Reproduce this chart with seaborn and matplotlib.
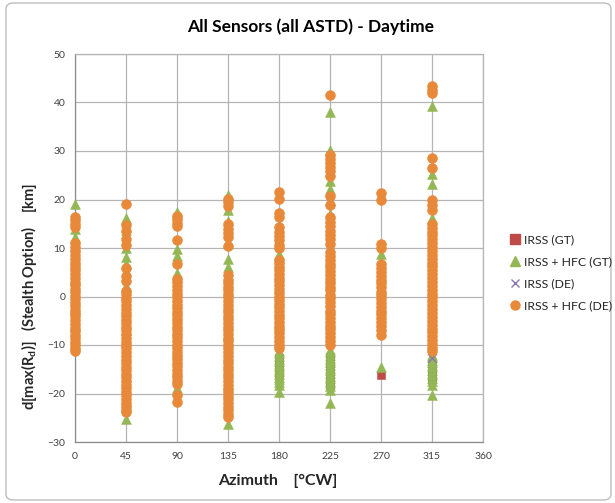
import pandas as pd
import seaborn as sns
import matplotlib.pyplot as plt
from matplotlib.lines import Line2D
from matplotlib.patches import FancyBboxPatch

# Azimuth positions (deg, clockwise) at which the sensors were evaluated
AZIMUTHS = [0, 45, 90, 135, 180, 225, 270, 315]

SERIES = ["IRSS (GT)", "IRSS + HFC (GT)", "IRSS (DE)", "IRSS + HFC (DE)"]

# d[max(Rd)] values in km, one list per azimuth (same order as AZIMUTHS)
irss_gt = [
    [],
    [],
    [],
    [],
    [-12.6, -13.9, -15.2, -16.2],
    [-12.4, -13.7, -15.0, -16.3, -17.4, -18.3],
    [-16.2],
    [-13.8, -15.1, -16.3, -17.0],
]

irss_hfc_gt = [
    [19.0, 13.9, 12.3, 10.4, 7.5, 3.5, -2.5, -6.0, -9.5],
    [16.1, 13.8, 10.0, 8.2, 6.6, 2.2, -7.0, -16.5, -22.0, -25.2],
    [17.5, 9.8, 8.3, 4.9, -4.0, -11.0, -18.9],
    [21.0, 17.8, 15.6, 11.0, 7.7, 6.0, 1.0, -8.0, -18.0, -26.2],
    [8.8, 2.0, -6.0, -11.2, -11.7, -12.3, -12.8, -13.3, -13.9, -14.4, -14.9,
     -15.4, -16.0, -16.5, -17.1, -17.6, -18.3, -19.6],
    [38.0, 30.3, 23.8, 22.1, 20.0, 17.1, 4.0, -11.0, -11.5, -12.0, -12.6,
     -13.1, -13.6, -14.2, -14.7, -15.2, -15.8, -16.3, -16.8, -17.4, -17.9,
     -18.5, -19.3, -21.9],
    [8.8, -14.5],
    [39.2, 25.2, 23.2, 16.2, 7.1, -12.0, -12.5, -13.0, -13.6, -14.1, -14.6,
     -15.2, -15.7, -16.2, -16.8, -17.4, -18.2, -20.4],
]

irss_de = [
    [],
    [],
    [],
    [],
    [],
    [],
    [],
    [-12.6],
]

irss_hfc_de = [
    [16.3, 15.7, 15.0, 14.4, 11.0, 10.2, 9.4, 8.5, 7.8, 7.0, 6.1, 5.4, 4.7,
     3.9, 3.0, 2.4, 1.6, 0.9, 0.2, -0.5, -1.3, -2.0, -2.8, -3.5, -4.1, -4.9,
     -5.7, -6.4, -7.2, -7.9, -8.6, -9.4, -10.1, -10.8, -11.3],
    [19.0, 14.8, 13.5, 11.8, 10.6, 5.8, 4.3, 3.1, 1.2, 0.5, -0.3, -1.0, -1.8,
     -2.5, -3.3, -4.0, -4.8, -5.5, -6.2, -7.0, -7.7, -8.5, -9.3, -10.0,
     -10.7, -11.5, -12.2, -13.0, -13.7, -14.5, -15.2, -16.0, -16.7, -17.4,
     -18.2, -18.9, -19.7, -20.4, -21.2, -21.9, -22.6, -23.4, -23.8],
    [16.6, 15.9, 15.1, 14.5, 11.6, 6.7, 3.6, 2.9, 2.1, 1.3, 0.6, -0.2, -0.9,
     -1.7, -2.4, -3.2, -3.9, -4.7, -5.4, -6.2, -6.9, -7.7, -8.4, -9.2, -9.9,
     -10.7, -11.4, -12.2, -12.9, -13.7, -14.4, -15.2, -15.9, -16.7, -17.4,
     -18.1, -20.4, -21.7],
    [20.2, 19.4, 18.6, 15.0, 14.0, 13.0, 12.2, 10.4, 4.4, 3.5, 2.8, 2.0, 1.3,
     0.5, -0.2, -1.0, -1.7, -2.5, -3.2, -4.0, -4.7, -5.5, -6.2, -7.0, -7.7,
     -8.5, -9.2, -10.0, -10.7, -11.5, -12.2, -13.0, -13.7, -14.5, -15.2,
     -16.0, -16.7, -17.5, -18.2, -19.0, -19.7, -20.5, -21.2, -22.0, -22.7,
     -23.5, -24.2, -24.9],
    [21.5, 20.2, 17.2, 16.3, 14.3, 13.4, 12.5, 11.6, 10.7, 9.9, 7.6, 6.9,
     6.1, 5.4, 4.6, 3.8, 3.1, 2.3, 1.5, 0.8, 0.0, -0.7, -1.5, -2.2, -3.0,
     -3.8, -4.5, -5.3, -6.1, -6.8, -7.6, -8.4, -9.1, -9.9, -10.6],
    [41.6, 29.1, 28.3, 27.5, 26.6, 25.8, 24.9, 20.8, 18.8, 16.3, 15.4, 14.5,
     13.6, 12.7, 11.8, 10.9, 9.2, 8.4, 7.6, 6.8, 6.1, 5.3, 4.5, 3.7, 2.8,
     2.0, 1.3, 0.4, -0.4, -1.2, -2.0, -2.9, -3.6, -4.4, -5.2, -6.1, -6.8,
     -7.6, -8.4, -9.2, -10.0],
    [21.4, 19.9, 10.8, 10.0, 6.7, 5.9, 5.1, 4.3, 3.4, 2.7, 1.9, 1.0, 0.3,
     -0.5, -1.3, -2.1, -2.9, -3.7, -4.5, -5.3, -6.1, -6.9, -7.9],
    [43.4, 42.6, 41.9, 28.5, 26.5, 19.9, 18.9, 17.9, 15.0, 14.2, 13.4, 12.6,
     11.8, 11.0, 10.2, 9.4, 8.6, 7.8, 7.0, 6.2, 5.4, 4.6, 3.8, 3.0, 2.2, 1.4,
     0.6, -0.2, -1.0, -1.8, -2.6, -3.4, -4.2, -5.0, -5.8, -6.6, -7.4, -8.2,
     -9.0, -9.8, -10.6, -11.2],
]

COLORS = ["#BE4B48", "#94B755", "#8A78B2", "#E8893A"]
MARKERS = ["s", "^", "x", "o"]
SIZES = [36, 50, 40, 50]

# long-form table: one row per measurement
rows = []
for name, per_az in zip(SERIES, [irss_gt, irss_hfc_gt, irss_de, irss_hfc_de]):
    for az, vals in zip(AZIMUTHS, per_az):
        for v in vals:
            rows.append({"series": name, "azimuth": az, "delta": v})
df = pd.DataFrame(rows)

sns.set_style("white")
plt.rcParams["font.family"] = ["Lato", "DejaVu Sans"]
plt.rcParams["mathtext.fontset"] = "custom"
plt.rcParams["mathtext.rm"] = "Lato"
plt.rcParams["mathtext.bf"] = "Lato:bold"

fig = plt.figure(figsize=(6.15, 5.03), dpi=100)
ax = fig.add_axes([75 / 615, 61 / 503, 408 / 615, 388 / 503])

for i, (name, col, mk, sz) in enumerate(zip(SERIES, COLORS, MARKERS, SIZES)):
    sub = df[df["series"] == name]
    if mk == "x":
        sns.scatterplot(data=sub, x="azimuth", y="delta", ax=ax, color=col,
                        marker=mk, s=sz, linewidth=1.0, legend=False,
                        zorder=3 + i, clip_on=False)
    else:
        sns.scatterplot(data=sub, x="azimuth", y="delta", ax=ax, color=col,
                        marker=mk, s=sz, edgecolor=col, linewidth=0.4,
                        legend=False, zorder=3 + i, clip_on=False)

ax.set_xlim(0, 360)
ax.set_ylim(-30, 50)
ax.set_xticks(range(0, 361, 45))
ax.set_yticks(range(-30, 51, 10))
ax.grid(True, color="#B5B5B5", linewidth=0.9)
ax.set_axisbelow(True)
ax.set_xlabel("")
ax.set_ylabel("")
for side in ["top", "right"]:
    ax.spines[side].set_color("#B5B5B5")
    ax.spines[side].set_linewidth(0.9)
for side in ["left", "bottom"]:
    ax.spines[side].set_color("#8C8C8C")
    ax.spines[side].set_linewidth(0.9)
ax.tick_params(axis="both", direction="out", length=4, width=0.8,
               color="#8C8C8C", labelsize=7.5, labelcolor="#404040", pad=3)

fig.text(311 / 615, 1 - 27 / 503, "All Sensors (all ASTD) - Daytime",
         ha="center", va="center", fontsize=12.5, fontweight="bold",
         color="#000000")
fig.text(278 / 615, 1 - 481 / 503, "Azimuth    [°CW]", ha="center",
         va="center", fontsize=11.5, fontweight="bold")
fig.text(29 / 615, 1 - 296 / 503,
         r"d[max(R$_\mathbf{d}$)]   (Stealth Option)    [km]",
         ha="center", va="center", rotation=90, fontsize=10.5,
         fontweight="bold")

handles = []
for name, col, mk in zip(SERIES, COLORS, MARKERS):
    if mk == "x":
        handles.append(Line2D([], [], linestyle="none", marker=mk, color=col,
                              markersize=6.3, markeredgewidth=1.0))
    else:
        handles.append(Line2D([], [], linestyle="none", marker=mk, color=col,
                              markeredgecolor=col, markersize=6.5))
fig.legend(handles, SERIES, loc="center left",
           bbox_to_anchor=(509 / 615, 1 - 273 / 503), frameon=False,
           fontsize=8.8, handlelength=0.9, handletextpad=0.3,
           labelspacing=0.9, borderpad=0, borderaxespad=0)

border = FancyBboxPatch((6 / 615, 3 / 503), 605 / 615, 497 / 503,
                        boxstyle="round,pad=0,rounding_size=0.012",
                        transform=fig.transFigure, fill=False,
                        edgecolor="#BDBDBD", linewidth=1.0)
fig.patches.append(border)

fig.savefig("out.png", dpi=100)
